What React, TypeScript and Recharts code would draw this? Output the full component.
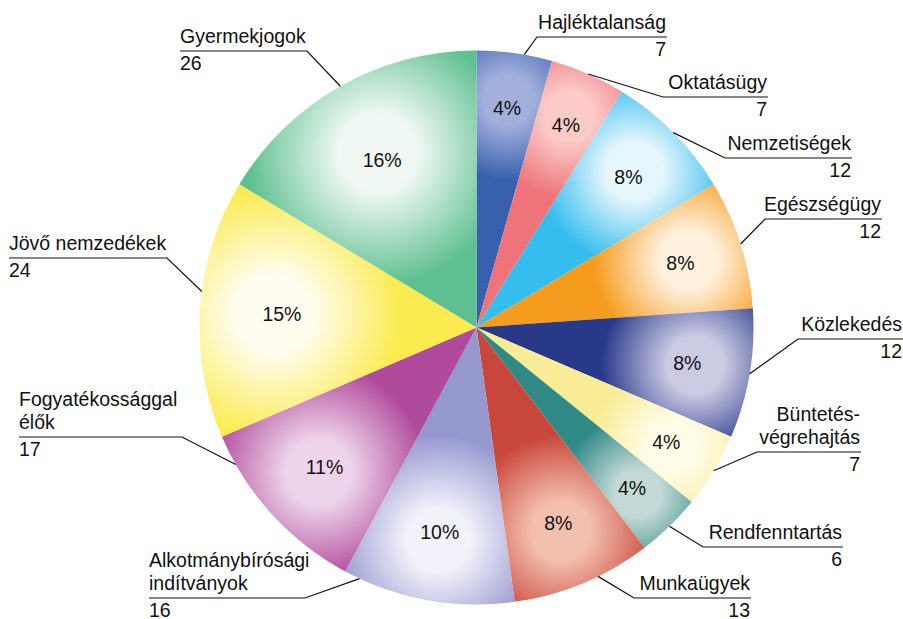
import React from 'react';
import { PieChart, Pie, Cell } from 'recharts';

const categories = [
  'Hajléktalanság',
  'Oktatásügy',
  'Nemzetiségek',
  'Egészségügy',
  'Közlekedés',
  'Büntetés-\nvégrehajtás',
  'Rendfenntartás',
  'Munkaügyek',
  'Alkotmánybírósági\nindítványok',
  'Fogyatékossággal\nélők',
  'Jövő nemzedékek',
  'Gyermekjogok',
];
const counts = [7, 7, 12, 12, 12, 7, 6, 13, 16, 17, 24, 26];

const edgeColors = [
  '#3760ae', '#ee747a', '#35bdee', '#f59c1e', '#28398a', '#f8ed96',
  '#2f8a86', '#c8463a', '#9598ce', '#b04a9c', '#fbeb4e', '#5ebf90',
];
const lightColors = [
  '#a3b0dc', '#fccbc8', '#e6f6fd', '#fff1de', '#cccbe4', '#fffce8',
  '#c2d9d6', '#f3bfae', '#f2f2fb', '#eed4ea', '#fffdf0', '#eff8f2',
];

// label placement (underline extents, side, leader angle tweak)
const labelLayout = [
  { side: 'R', x1: 537, x2: 667, y: 37, da: -2 },
  { side: 'R', x1: 663, x2: 768, y: 97, da: 0 },
  { side: 'R', x1: 725, x2: 852, y: 158, da: 0 },
  { side: 'R', x1: 765, x2: 882, y: 219, da: 0 },
  { side: 'R', x1: 798, x2: 903, y: 339, da: 0 },
  { side: 'R', x1: 757, x2: 861, y: 452, da: 0 },
  { side: 'R', x1: 703, x2: 843, y: 547, da: 0 },
  { side: 'R', x1: 634, x2: 751, y: 598, da: 3.4 },
  { side: 'L', x1: 149, x2: 305, y: 598, da: -14.8 },
  { side: 'L', x1: 19, x2: 182, y: 437, da: -12.8 },
  { side: 'L', x1: 9, x2: 167, y: 258, da: -3.5 },
  { side: 'L', x1: 180, x2: 307, y: 51, da: 0 },
];

const data = categories.map((name, i) => ({ name, value: counts[i] }));
const RAD = Math.PI / 180;
const FONT = '"Liberation Sans", Arial, Helvetica, sans-serif';

function renderLabel(props: any) {
  const { cx, cy, midAngle, outerRadius, percent, index } = props;
  const R = outerRadius;
  const pt = (r: number, a: number) => [cx + r * Math.cos(-a * RAD), cy + r * Math.sin(-a * RAD)];
  const f = 0.84 - 0.9 * percent;
  const [px, py] = pt(R * f, midAngle);
  const [gx, gy] = pt(R * (f + 0.03), midAngle);
  const gr = 62 + 430 * percent;
  const L = labelLayout[index];
  const [sx, sy] = pt(R, midAngle + L.da);
  const ex = L.side === 'R' ? L.x1 : L.x2;
  const lines = categories[index].split('\n');
  const tx = L.side === 'R' ? L.x2 - 1 : L.x1;
  const anchor = L.side === 'R' ? 'end' : 'start';
  const nameBase = L.y - 8.5;
  return (
    <g>
      <defs>
        <radialGradient id={`grad${index}`} gradientUnits="userSpaceOnUse" cx={gx} cy={gy} r={gr}>
          <stop offset="0" stopColor={lightColors[index]} />
          <stop offset="0.3" stopColor={lightColors[index]} />
          <stop offset="1" stopColor={edgeColors[index]} />
        </radialGradient>
      </defs>
      <text x={px} y={py} textAnchor="middle" dominantBaseline="central" fontFamily={FONT} fontSize={19.5} fill="#111">
        {Math.round(percent * 100)}%
      </text>
      <polyline
        points={`${sx},${sy} ${ex},${L.y} ${L.side === 'R' ? L.x2 : L.x1},${L.y}`}
        fill="none"
        stroke="#111"
        strokeWidth={1.2}
      />
      {lines.map((ln, k) => (
        <text
          key={k}
          x={tx}
          y={nameBase - (lines.length - 1 - k) * 23}
          textAnchor={anchor}
          fontFamily={FONT}
          fontSize={19.5}
          fill="#111"
        >
          {ln}
        </text>
      ))}
      <text x={tx} y={L.y + 18.5} textAnchor={anchor} fontFamily={FONT} fontSize={19.5} fill="#111">
        {counts[index]}
      </text>
    </g>
  );
}

export default function App() {
  return (
    <div style={{ position: 'absolute', left: 0, top: 0, width: 903, height: 619, background: '#ffffff' }}>
      <PieChart width={903} height={619} margin={{ top: 0, right: 0, bottom: 0, left: 0 }}>
        <Pie
          data={data}
          dataKey="value"
          nameKey="name"
          cx={476.5}
          cy={327.5}
          outerRadius={277}
          startAngle={90}
          endAngle={-270}
          stroke="none"
          label={renderLabel}
          labelLine={false}
          isAnimationActive={false}
        >
          {data.map((d, i) => (
            <Cell key={d.name} fill={`url(#grad${i})`} />
          ))}
        </Pie>
      </PieChart>
    </div>
  );
}
